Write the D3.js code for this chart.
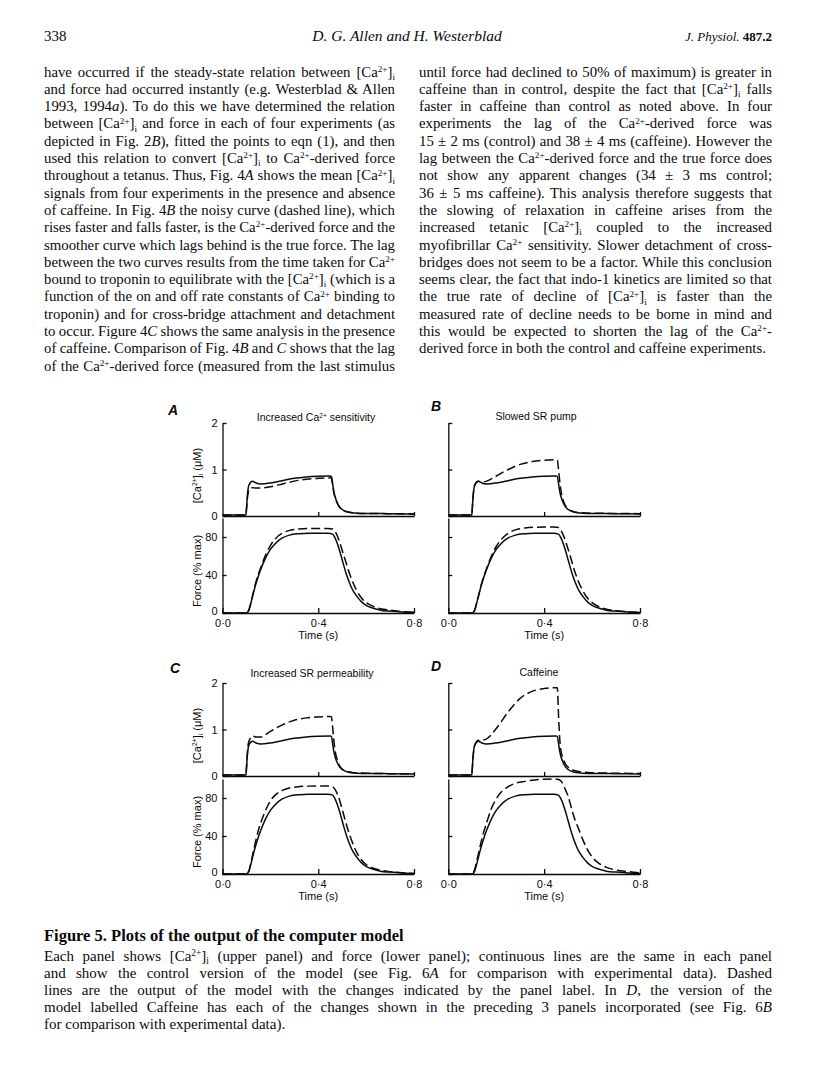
<!DOCTYPE html>
<html>
<head>
<meta charset="utf-8">
<script src="https://cdn.jsdelivr.net/npm/d3@7"></script>
<style>
  html, body { margin: 0; padding: 0; background: #fff; }
  svg { display: block; }
</style>
</head>
<body>
<svg id="page" width="816" height="1088"></svg>
<script>
// ---------------- DATA ----------------
const timeCa = [0, 0.098, 0.100, 0.104, 0.108, 0.115, 0.125, 0.14, 0.16, 0.20, 0.25, 0.30, 0.35, 0.40, 0.45, 0.455, 0.46, 0.465, 0.47, 0.48, 0.49, 0.50, 0.52, 0.55, 0.60, 0.70, 0.80];
const caControl = [0.02,0.02,0.15,0.45,0.62,0.71,0.75,0.71,0.69,0.71,0.76,0.81,0.84,0.855,0.86,0.85,0.70,0.53,0.42,0.28,0.19,0.14,0.09,0.065,0.055,0.05,0.045];
const caDashedA = [0.02,0.02,0.12,0.38,0.52,0.59,0.61,0.60,0.60,0.63,0.69,0.75,0.79,0.81,0.82,0.81,0.67,0.51,0.40,0.27,0.18,0.13,0.09,0.065,0.055,0.05,0.045];
const caDashedB = [0.02,0.02,0.15,0.45,0.62,0.71,0.75,0.73,0.75,0.86,1.00,1.11,1.17,1.20,1.21,1.20,1.00,0.75,0.55,0.33,0.21,0.15,0.10,0.07,0.06,0.055,0.05];
const caDashedC = [0.02,0.02,0.17,0.50,0.70,0.80,0.86,0.84,0.84,0.96,1.10,1.20,1.25,1.27,1.28,1.27,1.05,0.77,0.56,0.34,0.21,0.15,0.10,0.07,0.06,0.05,0.045];
const caDashedD = [0.02,0.02,0.15,0.45,0.62,0.72,0.77,0.77,0.80,1.02,1.38,1.67,1.82,1.88,1.90,1.90,1.30,0.80,0.55,0.36,0.25,0.19,0.13,0.09,0.07,0.06,0.055];

const timeForce = [0,0.1,0.11,0.12,0.13,0.14,0.15,0.16,0.18,0.20,0.22,0.25,0.28,0.32,0.36,0.40,0.44,0.46,0.47,0.48,0.49,0.50,0.51,0.52,0.53,0.54,0.56,0.58,0.60,0.63,0.66,0.70,0.75,0.80];
const forceControl = [0,0,3,12,22,31,39,46,58,67,73,79,82,83.5,84,84,84,83,79,73,65,56,47,39,32,26,18,12,8,5,3,2,1,0.5];
const forceDashedA = [0,0,3,12,23,33,41,48,61,71,78,84,87,88.5,89,89,89,88.5,86,81,74,66,58,50,42,35,24,16,11,7,4.5,3,1.5,0.8];
const forceDashedB = [0,0,3,12,22,32,40,47,60,70,77,84,87.5,89.5,90.3,90.5,90.5,90,87,82,75,67,59,50,42,35,24,16,11,6.5,4,2.5,1.2,0.6];
const forceDashedC = [0,0,3,13,25,36,46,54,67,77,83,88,90.5,92,92.5,92.7,92.7,92,89,84,77,68,59,50,42,35,23,15,10,6,4,2.5,1.2,0.6];
const forceDashedD = [0,0,5,15,26,37,46,54,69,79,86,92,95.5,97.5,99,99.8,100,99.5,98,94,88,82,73,64,56,50,37,26,18,11,7,4.2,2.5,1.2];

const panelLetters = ["A", "B", "C", "D"];
const panelTitles = ["Increased Ca^{2+} sensitivity", "Slowed SR pump", "Increased SR permeability", "Caffeine"];
const caTicks = [0, 1, 2];
const forceTicks = [0, 40, 80];
const timeTicks = [0, 0.4, 0.8];
const timeTickLabels = ["0·0", "0·4", "0·8"];
const caAxisTitle = "[Ca^{2+}]_{i} (μM)";
const forceAxisTitle = "Force (% max)";
const timeAxisTitle = "Time (s)";

const headerLeft = "338";
const headerCenter = "D. G. Allen and H. Westerblad";
const headerRightItalic = "J. Physiol.";
const headerRightBold = " 487.2";

const leftColumn = [
  "have occurred if the steady-state relation between [Ca^{2+}]_{i}",
  "and force had occurred instantly (e.g. Westerblad & Allen",
  "1993, 1994*a*). To do this we have determined the relation",
  "between [Ca^{2+}]_{i} and force in each of four experiments (as",
  "depicted in Fig. 2*B*), fitted the points to eqn (1), and then",
  "used this relation to convert [Ca^{2+}]_{i} to Ca^{2+}-derived force",
  "throughout a tetanus. Thus, Fig. 4*A* shows the mean [Ca^{2+}]_{i}",
  "signals from four experiments in the presence and absence",
  "of caffeine. In Fig. 4*B* the noisy curve (dashed line), which",
  "rises faster and falls faster, is the Ca^{2+}-derived force and the",
  "smoother curve which lags behind is the true force. The lag",
  "between the two curves results from the time taken for Ca^{2+}",
  "bound to troponin to equilibrate with the [Ca^{2+}]_{i} (which is a",
  "function of the on and off rate constants of Ca^{2+} binding to",
  "troponin) and for cross-bridge attachment and detachment",
  "to occur. Figure 4*C* shows the same analysis in the presence",
  "of caffeine. Comparison of Fig. 4*B* and *C* shows that the lag",
  "of the Ca^{2+}-derived force (measured from the last stimulus"
];
const rightColumn = [
  "until force had declined to 50% of maximum) is greater in",
  "caffeine than in control, despite the fact that [Ca^{2+}]_{i} falls",
  "faster in caffeine than control as noted above. In four",
  "experiments the lag of the Ca^{2+}-derived force was",
  "15 ± 2 ms (control) and 38 ± 4 ms (caffeine). However the",
  "lag between the Ca^{2+}-derived force and the true force does",
  "not show any apparent changes (34 ± 3 ms control;",
  "36 ± 5 ms caffeine). This analysis therefore suggests that",
  "the slowing of relaxation in caffeine arises from the",
  "increased tetanic [Ca^{2+}]_{i} coupled to the increased",
  "myofibrillar Ca^{2+} sensitivity. Slower detachment of cross-",
  "bridges does not seem to be a factor. While this conclusion",
  "seems clear, the fact that indo-1 kinetics are limited so that",
  "the true rate of decline of [Ca^{2+}]_{i} is faster than the",
  "measured rate of decline needs to be borne in mind and",
  "this would be expected to shorten the lag of the Ca^{2+}-",
  "derived force in both the control and caffeine experiments."
];
const captionTitle = "Figure 5. Plots of the output of the computer model";
const captionLines = [
  "Each panel shows [Ca^{2+}]_{i} (upper panel) and force (lower panel); continuous lines are the same in each panel",
  "and show the control version of the model (see Fig. 6*A* for comparison with experimental data). Dashed",
  "lines are the output of the model with the changes indicated by the panel label. In *D*, the version of the",
  "model labelled Caffeine has each of the changes shown in the preceding 3 panels incorporated (see Fig. 6*B*",
  "for comparison with experimental data)."
];

// ---------------- RENDER ----------------
const svg = d3.select("#page");
svg.append("rect").attr("width", 816).attr("height", 1088).attr("fill", "#fff");

const SERIF = "'Liberation Serif', 'Times New Roman', serif";
const SANS = "'Liberation Sans', Arial, Helvetica, sans-serif";
const INK = "#0a0a0a";

function rich(g, str, x, y, o) {
  const size = o.size;
  const t = g.append("text")
    .attr("x", x).attr("y", y)
    .attr("font-family", o.font)
    .attr("font-size", size)
    .attr("font-weight", o.weight || "normal")
    .attr("font-style", o.style || "normal")
    .attr("fill", INK)
    .style("white-space", "pre");
  if (o.anchor) t.attr("text-anchor", o.anchor);
  if (o.transform) t.attr("transform", o.transform);
  const parts = str.split(/(\^\{[^}]*\}|_\{[^}]*\}|\*[^*]*\*)/).filter(s => s.length);
  let cur = 0;
  parts.forEach(p => {
    let txt = p, off = 0, fs = null, it = false;
    if (p.startsWith("^{")) { txt = p.slice(2, -1); off = -0.32 * size; fs = 0.62 * size; }
    else if (p.startsWith("_{")) { txt = p.slice(2, -1); off = 0.22 * size; fs = 0.62 * size; }
    else if (p.length > 1 && p.startsWith("*") && p.endsWith("*")) { txt = p.slice(1, -1); it = true; }
    const ts = t.append("tspan").text(txt);
    if (off - cur !== 0) ts.attr("dy", off - cur);
    cur = off;
    if (fs) ts.attr("font-size", fs);
    if (it) ts.attr("font-style", "italic");
  });
  return t;
}
function plainOf(str) {
  return str.replace(/\^\{([^}]*)\}/g, "$1").replace(/_\{([^}]*)\}/g, "$1").replace(/\*([^*]*)\*/g, "$1");
}
function justify(t, str, width) {
  const len = t.node().getComputedTextLength();
  const n = (plainOf(str).match(/ /g) || []).length;
  if (!n) return;
  t.attr("word-spacing", (width - len) / n);
  const len2 = t.node().getComputedTextLength();
  if (Math.abs(len2 - width) > 2) {
    t.attr("word-spacing", null).attr("textLength", width).attr("lengthAdjust", "spacing");
  }
}

// Header
const hdr = svg.append("g");
rich(hdr, headerLeft, 44, 41, { font: SERIF, size: 15 });
rich(hdr, headerCenter, 407, 41, { font: SERIF, size: 15.5, style: "italic", anchor: "middle" });
const hr = hdr.append("text").attr("x", 772).attr("y", 41).attr("text-anchor", "end")
  .attr("font-family", SERIF).attr("font-size", 13).attr("fill", INK);
hr.append("tspan").attr("font-style", "italic").text(headerRightItalic);
hr.append("tspan").attr("font-weight", "bold").text(headerRightBold);

// Body columns
const body = svg.append("g");
const BODY_SIZE = 14.8, LINE = 17.3, TOP = 76.5;
leftColumn.forEach((s, i) => {
  const t = rich(body, s, 44, TOP + i * LINE, { font: SERIF, size: BODY_SIZE });
  justify(t, s, 351);
});
rightColumn.forEach((s, i) => {
  const t = rich(body, s, 419, TOP + i * LINE, { font: SERIF, size: BODY_SIZE });
  if (i < rightColumn.length - 1) justify(t, s, 353);
});

// Caption
const cap = svg.append("g");
rich(cap, captionTitle, 44, 941, { font: SERIF, size: 16.5, weight: "bold" });
captionLines.forEach((s, i) => {
  const t = rich(cap, s, 44, 961 + i * 17, { font: SERIF, size: 15 });
  if (i < captionLines.length - 1) justify(t, s, 728);
});

// Figure panels
const caDashed = [caDashedA, caDashedB, caDashedC, caDashedD];
const forceDashed = [forceDashedA, forceDashedB, forceDashedC, forceDashedD];
const layout = [
  { x0: 222.5, x1: 414, caTop: 423, caBase: 516, fTop: 518, fBase: 613, yLabels: true, letterX: 168, letterY: 415, titleX: 316, titleY: 421 },
  { x0: 448.3, x1: 640, caTop: 423, caBase: 516, fTop: 518, fBase: 613, yLabels: false, letterX: 431, letterY: 411, titleX: 536, titleY: 420 },
  { x0: 222.5, x1: 414, caTop: 683, caBase: 776, fTop: 779, fBase: 874, yLabels: true, letterX: 170, letterY: 673, titleX: 312, titleY: 677 },
  { x0: 448.3, x1: 640, caTop: 683, caBase: 776, fTop: 779, fBase: 874, yLabels: false, letterX: 431, letterY: 671, titleX: 539, titleY: 676 }
];

const STROKE = 1.5;
layout.forEach((L, pi) => {
  const g = svg.append("g");
  const x = d3.scaleLinear().domain([0, 0.8]).range([L.x0, L.x1]);
  const yCa = d3.scaleLinear().domain([0, 2]).range([L.caBase, L.caTop]);
  const yF = d3.scaleLinear().domain([0, 100]).range([L.fBase, L.fTop]);

  const axCa = g.append("g").attr("transform", `translate(${L.x0},0)`)
    .call(d3.axisLeft(yCa).tickValues(caTicks).tickSizeInner(-4).tickSizeOuter(0).tickPadding(5)
      .tickFormat(L.yLabels ? d3.format("d") : () => ""));
  const axF = g.append("g").attr("transform", `translate(${L.x0},0)`)
    .call(d3.axisLeft(yF).tickValues(forceTicks).tickSizeInner(-4).tickSizeOuter(0).tickPadding(5)
      .tickFormat(L.yLabels ? d3.format("d") : () => ""));
  axF.selectAll(".tick").filter(d => d === 0).select("text").attr("dy", "0.15em");
  const axCaX = g.append("g").attr("transform", `translate(0,${L.caBase})`)
    .call(d3.axisBottom(x).tickValues([0.4, 0.8]).tickSizeInner(-4).tickSizeOuter(0).tickFormat(() => ""));
  const axFX = g.append("g").attr("transform", `translate(0,${L.fBase})`)
    .call(d3.axisBottom(x).tickValues(timeTicks).tickSizeInner(-5).tickSizeOuter(0).tickPadding(6)
      .tickFormat((d, i) => timeTickLabels[i]));
  [axCa, axF, axCaX, axFX].forEach(a => {
    a.attr("font-family", SANS).attr("font-size", 11);
    a.selectAll("path, line").attr("stroke", INK).attr("stroke-width", 1.3);
    a.selectAll("text").attr("fill", INK);
  });

  const lineCa = d3.line().x(d => x(d[0])).y(d => yCa(d[1])).curve(d3.curveMonotoneX);
  const lineF = d3.line().x(d => x(d[0])).y(d => yF(d[1])).curve(d3.curveMonotoneX);
  g.append("path").datum(d3.zip(timeCa, caDashed[pi])).attr("d", lineCa)
    .attr("fill", "none").attr("stroke", INK).attr("stroke-width", STROKE).attr("stroke-dasharray", "9,4");
  g.append("path").datum(d3.zip(timeCa, caControl)).attr("d", lineCa)
    .attr("fill", "none").attr("stroke", INK).attr("stroke-width", STROKE);
  g.append("path").datum(d3.zip(timeForce, forceDashed[pi])).attr("d", lineF)
    .attr("fill", "none").attr("stroke", INK).attr("stroke-width", STROKE).attr("stroke-dasharray", "9,4");
  g.append("path").datum(d3.zip(timeForce, forceControl)).attr("d", lineF)
    .attr("fill", "none").attr("stroke", INK).attr("stroke-width", STROKE);

  g.append("text").attr("x", L.letterX).attr("y", L.letterY)
    .attr("font-family", SANS).attr("font-size", 14).attr("font-style", "italic").attr("font-weight", "bold")
    .attr("fill", INK).text(panelLetters[pi]);
  rich(g, panelTitles[pi], L.titleX, L.titleY, { font: SANS, size: 10.5, anchor: "middle" });
  rich(g, timeAxisTitle, x(0.4), L.fBase + 26, { font: SANS, size: 11, anchor: "middle" });
  if (L.yLabels) {
    const cyCa = (L.caBase + L.caTop) / 2 + 6;
    rich(g, caAxisTitle, 0, 0, { font: SANS, size: 11, anchor: "middle",
      transform: `translate(${L.x0 - 22},${cyCa}) rotate(-90)` });
    const cyF = L.fBase - 42;
    rich(g, forceAxisTitle, 0, 0, { font: SANS, size: 11, anchor: "middle",
      transform: `translate(${L.x0 - 22},${cyF}) rotate(-90)` });
  }
});
</script>
</body>
</html>
